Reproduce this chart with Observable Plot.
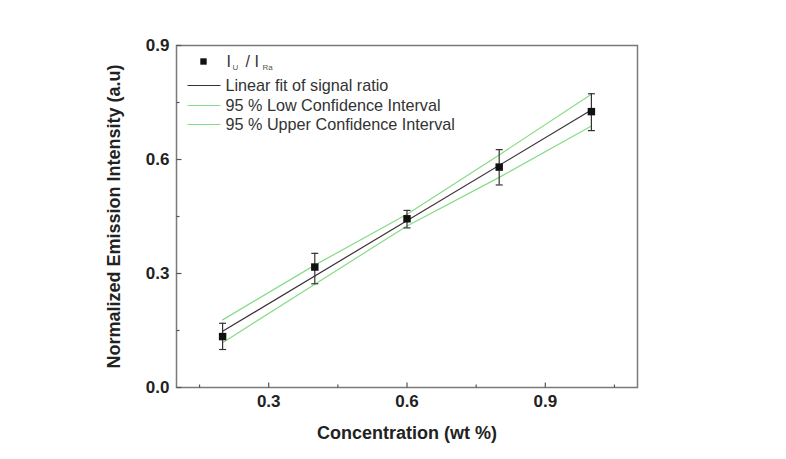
<!DOCTYPE html>
<html>
<head>
<meta charset="utf-8">
<script src="https://cdn.jsdelivr.net/npm/d3@7"></script>
<script src="https://cdn.jsdelivr.net/npm/@observablehq/plot@0.6"></script>
<style>
  html, body { margin: 0; padding: 0; background: #fff; }
  svg { font-family: "Liberation Sans", Arial, sans-serif; }
</style>
</head>
<body>
<div id="chart"></div>
<script>
const conc      = [0.2, 0.4, 0.6, 0.8, 1.0];
const ratio     = [0.134, 0.317, 0.444, 0.580, 0.726];
const errLow    = [0.100, 0.273, 0.420, 0.533, 0.676];
const errHigh   = [0.169, 0.353, 0.466, 0.626, 0.773];
// Linear fit and confidence bands
const fitX      = [0.2, 1.0];
const fitY      = [0.148, 0.730];
const bandX     = [0.2, 0.4, 0.6, 0.8, 1.0];
const bandLow   = [0.118, 0.272, 0.425, 0.553, 0.688];
const bandHigh  = [0.178, 0.322, 0.456, 0.612, 0.772];
// Axis ticks
const xTicks = [0.3, 0.6, 0.9];
const xMinor = [0.15, 0.45, 0.75, 1.05];
const yTicks = [0.0, 0.3, 0.6, 0.9];
const yMinor = [0.15, 0.45, 0.75];
const legendLabels = ["Linear fit of signal ratio", "95 % Low Confidence Interval", "95 % Upper Confidence Interval"];

const points = conc.map((x, i) => ({x, y: ratio[i], lo: errLow[i], hi: errHigh[i]}));
const fit = fitX.map((x, i) => ({x, y: fitY[i]}));
const low = bandX.map((x, i) => ({x, y: bandLow[i]}));
const high = bandX.map((x, i) => ({x, y: bandHigh[i]}));

const green = "#86dc86";
const cap = {draw(ctx) { ctx.moveTo(-3.5, 0); ctx.lineTo(3.5, 0); }};
const vTickMajor = {draw(ctx) { ctx.moveTo(0, 0); ctx.lineTo(0, -5); }};
const vTickMinor = {draw(ctx) { ctx.moveTo(0, 0); ctx.lineTo(0, -3); }};
const hTickMajor = {draw(ctx) { ctx.moveTo(0, 0); ctx.lineTo(5, 0); }};
const hTickMinor = {draw(ctx) { ctx.moveTo(0, 0); ctx.lineTo(3, 0); }};
const legLine = {draw(ctx) { ctx.moveTo(-16.5, 0); ctx.lineTo(16.5, 0); }};
const legendColors = ["#333", green, green];
const legendDy = [40, 60, 79];

const chart = Plot.plot({
  width: 786,
  height: 459,
  marginLeft: 176,
  marginRight: 149,
  marginTop: 45,
  marginBottom: 72,
  x: {domain: [0.1, 1.1]},
  y: {domain: [0, 0.9]},
  style: {fontFamily: "'Liberation Sans', Arial, sans-serif", background: "#fff"},
  marks: [
    Plot.frame({stroke: "#7a7a7a", strokeWidth: 1.5}),
    Plot.axisX(xTicks, {tickSize: 0, tickPadding: 7, tickFormat: d3.format(".1f"), fontSize: 17, fontWeight: "bold", fill: "#222", label: null}),
    Plot.axisY(yTicks, {tickSize: 0, tickPadding: 7, tickFormat: d3.format(".1f"), fontSize: 17, fontWeight: "bold", fill: "#222", label: null}),
    Plot.dot(xTicks, {x: d => d, frameAnchor: "bottom", symbol: vTickMajor, stroke: "#555", strokeWidth: 1.2, r: 5}),
    Plot.dot(xMinor, {x: d => d, frameAnchor: "bottom", symbol: vTickMinor, stroke: "#555", strokeWidth: 1.2, r: 5}),
    Plot.dot(yTicks, {y: d => d, frameAnchor: "left", symbol: hTickMajor, stroke: "#555", strokeWidth: 1.2, r: 5}),
    Plot.dot(yMinor, {y: d => d, frameAnchor: "left", symbol: hTickMinor, stroke: "#555", strokeWidth: 1.2, r: 5}),
    Plot.line(low, {x: "x", y: "y", stroke: green, strokeWidth: 1.2}),
    Plot.line(high, {x: "x", y: "y", stroke: green, strokeWidth: 1.2}),
    Plot.line(fit, {x: "x", y: "y", stroke: "#3a3036", strokeWidth: 1.2}),
    Plot.ruleX(points, {x: "x", y1: "lo", y2: "hi", stroke: "#333", strokeWidth: 1.2}),
    Plot.dot(points, {x: "x", y: "hi", symbol: cap, stroke: "#333", strokeWidth: 1.2, r: 4}),
    Plot.dot(points, {x: "x", y: "lo", symbol: cap, stroke: "#333", strokeWidth: 1.2, r: 4}),
    Plot.dot(points, {x: "x", y: "y", symbol: "square", fill: "#111", r: 4.2}),
    // Axis titles
    Plot.text(["Concentration (wt %)"], {frameAnchor: "bottom", dy: 46, fontSize: 18, fontWeight: "bold", fill: "#222", lineAnchor: "middle"}),
    Plot.text(["Normalized Emission Intensity (a.u)"], {frameAnchor: "left", dx: -62, rotate: -90, fontSize: 18, fontWeight: "bold", fill: "#222", textAnchor: "middle", lineAnchor: "middle"}),
    // Legend
    Plot.dot([0], {frameAnchor: "top-left", dx: 27, dy: 16, symbol: "square", fill: "#111", r: 3.6}),
    Plot.text(["I"], {frameAnchor: "top-left", dx: 50, dy: 16, fontSize: 16, fill: "#333", textAnchor: "start", lineAnchor: "middle"}),
    Plot.text(["U"], {frameAnchor: "top-left", dx: 56, dy: 22, fontSize: 8, fill: "#555", textAnchor: "start", lineAnchor: "middle"}),
    Plot.text(["/ I"], {frameAnchor: "top-left", dx: 69, dy: 16, fontSize: 16, fill: "#333", textAnchor: "start", lineAnchor: "middle"}),
    Plot.text(["Ra"], {frameAnchor: "top-left", dx: 86, dy: 22, fontSize: 8, fill: "#555", textAnchor: "start", lineAnchor: "middle"}),
    ...legendLabels.map((lab, i) => Plot.dot([0], {frameAnchor: "top-left", dx: 27.5, dy: legendDy[i], symbol: legLine, stroke: legendColors[i], strokeWidth: 1.2, r: 5})),
    ...legendLabels.map((lab, i) => Plot.text([lab], {frameAnchor: "top-left", dx: 49, dy: legendDy[i], fontSize: 16.2, fill: "#333", textAnchor: "start", lineAnchor: "middle"}))
  ]
});
document.getElementById("chart").appendChild(chart);
</script>
</body>
</html>
